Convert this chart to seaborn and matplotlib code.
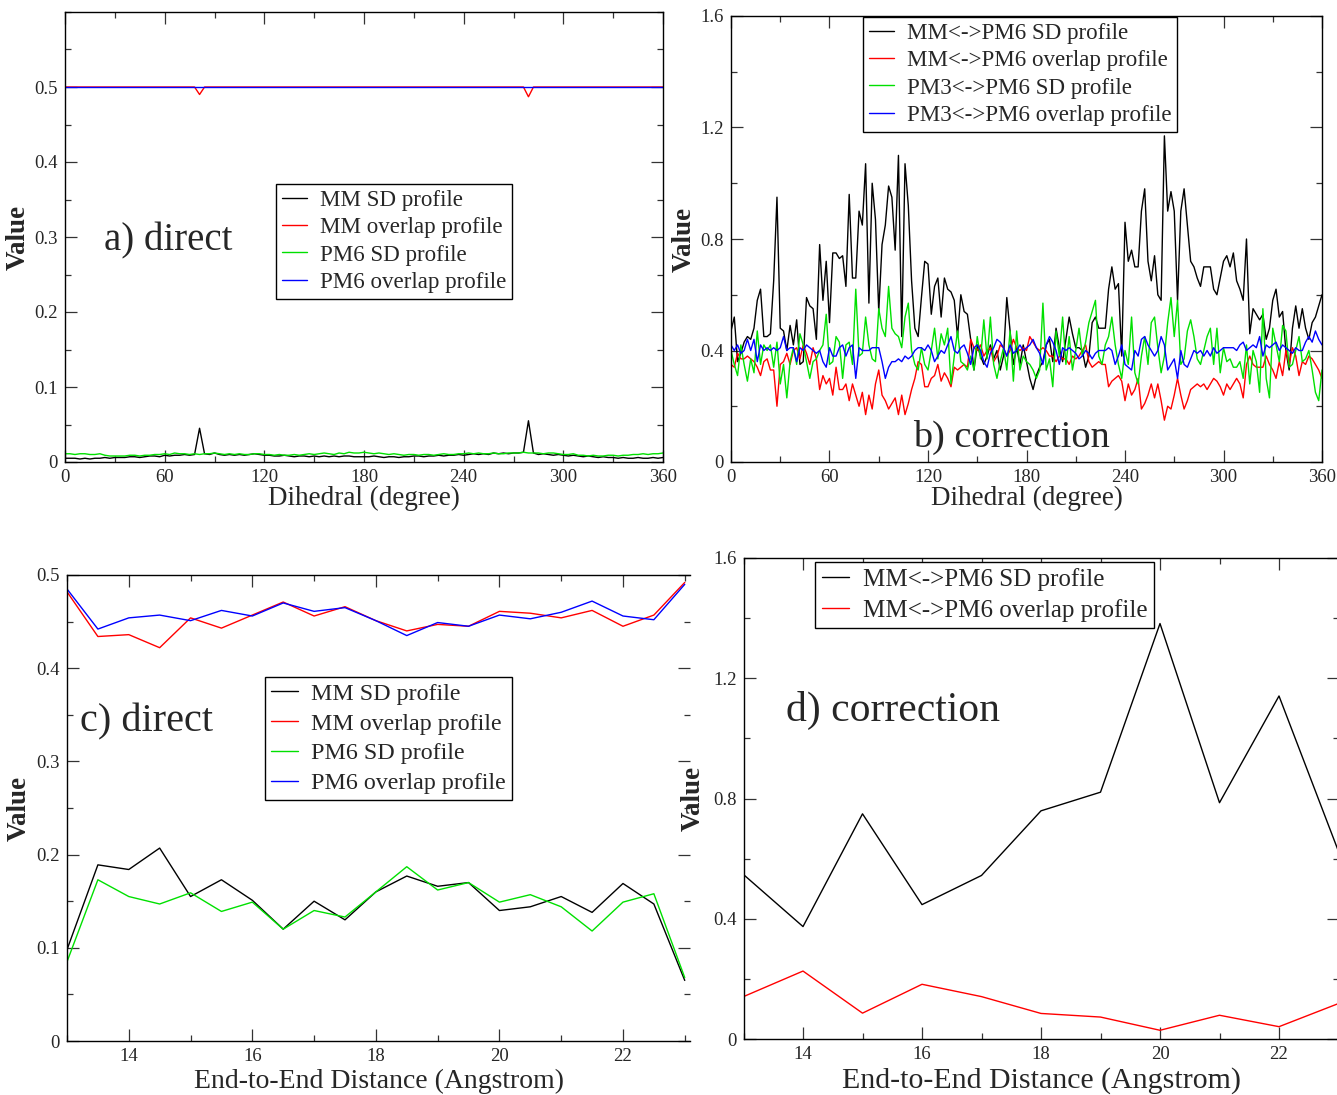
import numpy as np
import pandas as pd
import matplotlib
matplotlib.use("Agg")
import matplotlib.pyplot as plt
from matplotlib.ticker import MultipleLocator, FixedLocator, FuncFormatter
import seaborn as sns

# ---------------- data ----------------
# panel a (direct, dihedral) : 3-degree grid
dih_a = np.arange(0, 361, 3)
mm_sd_a = [0.005, 0.005, 0.005, 0.004, 0.005, 0.004, 0.005, 0.005, 0.006, 0.005, 0.006,
           0.006, 0.006, 0.007, 0.007, 0.006, 0.007, 0.008, 0.008, 0.007,
           0.009, 0.008, 0.009, 0.009, 0.010, 0.009, 0.010,
           0.045, 0.011, 0.010, 0.012,
           0.010, 0.009, 0.010, 0.009, 0.010, 0.009, 0.010, 0.011, 0.010, 0.009,
           0.009, 0.008, 0.008, 0.009, 0.008, 0.007, 0.008, 0.008, 0.007, 0.008,
           0.007, 0.008, 0.007, 0.008, 0.007, 0.008, 0.008, 0.007, 0.007,
           0.007, 0.007, 0.008, 0.007, 0.006, 0.007, 0.007, 0.006, 0.007, 0.007,
           0.008, 0.008, 0.007, 0.008, 0.008, 0.009, 0.008, 0.009, 0.009, 0.010,
           0.009, 0.010, 0.011, 0.010, 0.011, 0.010, 0.012, 0.011, 0.012, 0.011, 0.012,
           0.012, 0.013, 0.055, 0.012,
           0.010, 0.011, 0.010, 0.009, 0.010, 0.009, 0.008, 0.009, 0.008, 0.007,
           0.008, 0.007, 0.006, 0.007, 0.006, 0.006, 0.005, 0.006, 0.005, 0.005,
           0.006, 0.005, 0.005, 0.006, 0.005, 0.006]
mm_ov_a = [0.5, 0.5, 0.5, 0.5, 0.5, 0.5, 0.5, 0.5, 0.5, 0.5, 0.5,
           0.5, 0.5, 0.5, 0.5, 0.5, 0.5, 0.5, 0.5, 0.5, 0.5, 0.5,
           0.5, 0.5, 0.5, 0.5, 0.5, 0.490, 0.5, 0.5, 0.5, 0.5, 0.5,
           0.5, 0.5, 0.5, 0.5, 0.5, 0.5, 0.5, 0.5, 0.5, 0.5, 0.5,
           0.5, 0.5, 0.5, 0.5, 0.5, 0.5, 0.5, 0.5, 0.5, 0.5, 0.5,
           0.5, 0.5, 0.5, 0.5, 0.5, 0.5, 0.5, 0.5, 0.5, 0.5, 0.5,
           0.5, 0.5, 0.5, 0.5, 0.5, 0.5, 0.5, 0.5, 0.5, 0.5, 0.5,
           0.5, 0.5, 0.5, 0.5, 0.5, 0.5, 0.5, 0.5, 0.5, 0.5, 0.5,
           0.5, 0.5, 0.5, 0.5, 0.5, 0.487, 0.5, 0.5, 0.5, 0.5, 0.5,
           0.5, 0.5, 0.5, 0.5, 0.5, 0.5, 0.5, 0.5, 0.5, 0.5, 0.5,
           0.5, 0.5, 0.5, 0.5, 0.5, 0.5, 0.5, 0.5, 0.5, 0.5, 0.5]
pm6_sd_a = [0.011, 0.011, 0.010, 0.011, 0.011, 0.010, 0.010, 0.011, 0.009, 0.008, 0.008,
            0.008, 0.008, 0.009, 0.009, 0.008, 0.009, 0.009, 0.010, 0.010, 0.011,
            0.010, 0.012, 0.011, 0.011, 0.010, 0.011, 0.010, 0.011, 0.011, 0.012,
            0.011, 0.010, 0.011, 0.010, 0.011, 0.010, 0.010, 0.011, 0.011, 0.010,
            0.010, 0.009, 0.010, 0.009, 0.009, 0.010, 0.009, 0.010, 0.011, 0.010,
            0.011, 0.012, 0.011, 0.010, 0.012, 0.011, 0.013, 0.012, 0.012, 0.013,
            0.012, 0.011, 0.012, 0.011, 0.010, 0.011, 0.010, 0.009, 0.010, 0.010,
            0.009, 0.010, 0.010, 0.009, 0.010, 0.011, 0.010, 0.010, 0.011, 0.011,
            0.012, 0.011, 0.012, 0.011, 0.011, 0.012, 0.011, 0.011, 0.012, 0.012,
            0.012, 0.013, 0.012, 0.012, 0.012, 0.011, 0.012, 0.012, 0.011, 0.010,
            0.010, 0.011, 0.009, 0.009, 0.008, 0.009, 0.008, 0.008, 0.009, 0.009,
            0.008, 0.009, 0.009, 0.010, 0.010, 0.011, 0.010, 0.011, 0.011, 0.012]
pm6_ov_a = [0.5, 0.5, 0.5, 0.5, 0.5, 0.5, 0.5, 0.5, 0.5, 0.5, 0.5,
            0.5, 0.5, 0.5, 0.5, 0.5, 0.5, 0.5, 0.5, 0.5, 0.5, 0.5,
            0.5, 0.5, 0.5, 0.5, 0.5, 0.5, 0.5, 0.5, 0.5, 0.5, 0.5,
            0.5, 0.5, 0.5, 0.5, 0.5, 0.5, 0.5, 0.5, 0.5, 0.5, 0.5,
            0.5, 0.5, 0.5, 0.5, 0.5, 0.5, 0.5, 0.5, 0.5, 0.5, 0.5,
            0.5, 0.5, 0.5, 0.5, 0.5, 0.5, 0.5, 0.5, 0.5, 0.5, 0.5,
            0.5, 0.5, 0.5, 0.5, 0.5, 0.5, 0.5, 0.5, 0.5, 0.5, 0.5,
            0.5, 0.5, 0.5, 0.5, 0.5, 0.5, 0.5, 0.5, 0.5, 0.5, 0.5,
            0.5, 0.5, 0.5, 0.5, 0.5, 0.5, 0.5, 0.5, 0.5, 0.5, 0.5,
            0.5, 0.5, 0.5, 0.5, 0.5, 0.5, 0.5, 0.5, 0.5, 0.5, 0.5,
            0.5, 0.5, 0.5, 0.5, 0.5, 0.5, 0.5, 0.5, 0.5, 0.5, 0.5]

# panel b (correction, dihedral) : 2-degree grid
dih_b = np.arange(0, 361, 2)
mm_pm6_sd_b = [0.47, 0.52, 0.36, 0.39, 0.43, 0.45, 0.44, 0.48, 0.58, 0.62, 0.45, 0.45, 0.46, 0.65, 0.95,
               0.48, 0.47, 0.40, 0.49, 0.42, 0.51, 0.35, 0.36, 0.59, 0.56, 0.55, 0.44, 0.78, 0.58, 0.72,
               0.50, 0.75, 0.75, 0.73, 0.74, 0.63, 0.96, 0.66, 0.66, 0.90, 0.85, 1.07, 0.57, 1.00, 0.87, 0.54,
               0.78, 0.85, 0.99, 0.95, 0.76, 1.10, 0.45, 1.07, 0.92, 0.65, 0.48, 0.45, 0.59, 0.72, 0.71,
               0.53, 0.63, 0.66, 0.52, 0.66, 0.62, 0.61, 0.58, 0.45, 0.60, 0.54, 0.53, 0.44, 0.33, 0.42,
               0.38, 0.35, 0.38, 0.42, 0.37, 0.40, 0.33, 0.38, 0.59, 0.47, 0.35, 0.41, 0.35, 0.42, 0.36,
               0.30, 0.26, 0.31, 0.34, 0.36, 0.42, 0.44, 0.36, 0.48, 0.41, 0.36, 0.44, 0.52, 0.46, 0.41,
               0.41, 0.40, 0.34, 0.38, 0.50, 0.52, 0.48, 0.48, 0.48, 0.62, 0.70, 0.62, 0.64, 0.38, 0.86,
               0.72, 0.76, 0.70, 0.70, 0.90, 0.98, 0.72, 0.65, 0.74, 0.60, 0.58, 1.17, 0.90, 0.97, 0.90,
               0.58, 0.90, 0.98, 0.85, 0.72, 0.70, 0.66, 0.63, 0.70, 0.70, 0.70, 0.62, 0.60, 0.66, 0.72,
               0.74, 0.70, 0.75, 0.65, 0.62, 0.58, 0.80, 0.46, 0.55, 0.53, 0.51, 0.53, 0.44, 0.48, 0.58,
               0.62, 0.52, 0.54, 0.40, 0.33, 0.48, 0.56, 0.48, 0.55, 0.48, 0.44, 0.50, 0.52, 0.56, 0.60]
mm_pm6_ov_b = [0.35, 0.34, 0.39, 0.37, 0.37, 0.38, 0.37, 0.36, 0.34, 0.31, 0.36, 0.37, 0.33, 0.33, 0.20,
               0.35, 0.36, 0.39, 0.35, 0.40, 0.41, 0.37, 0.42, 0.39, 0.35, 0.41, 0.37, 0.26, 0.31, 0.28,
               0.30, 0.24, 0.34, 0.26, 0.26, 0.28, 0.22, 0.28, 0.24, 0.20, 0.25, 0.17, 0.24, 0.19, 0.28, 0.33,
               0.24, 0.22, 0.19, 0.21, 0.23, 0.17, 0.24, 0.17, 0.21, 0.26, 0.30, 0.36, 0.35, 0.27, 0.27,
               0.30, 0.31, 0.35, 0.29, 0.32, 0.30, 0.27, 0.34, 0.33, 0.34, 0.35, 0.34, 0.44, 0.41, 0.40,
               0.42, 0.38, 0.40, 0.41, 0.36, 0.38, 0.42, 0.41, 0.38, 0.40, 0.44, 0.41, 0.40, 0.41, 0.40,
               0.45, 0.43, 0.41, 0.40, 0.41, 0.40, 0.38, 0.38, 0.36, 0.38, 0.37, 0.37, 0.35, 0.38, 0.37,
               0.38, 0.40, 0.42, 0.36, 0.34, 0.35, 0.36, 0.35, 0.35, 0.27, 0.29, 0.30, 0.31, 0.29, 0.22,
               0.28, 0.24, 0.26, 0.30, 0.19, 0.21, 0.24, 0.28, 0.23, 0.28, 0.22, 0.15, 0.20, 0.19, 0.24,
               0.30, 0.24, 0.19, 0.22, 0.26, 0.27, 0.28, 0.27, 0.28, 0.26, 0.28, 0.30, 0.29, 0.27, 0.24,
               0.28, 0.26, 0.28, 0.30, 0.28, 0.23, 0.35, 0.38, 0.35, 0.34, 0.34, 0.34, 0.38, 0.35, 0.33,
               0.30, 0.36, 0.31, 0.40, 0.35, 0.41, 0.38, 0.31, 0.36, 0.35, 0.38, 0.37, 0.35, 0.33, 0.30]
pm3_pm6_sd_b = [0.40, 0.35, 0.31, 0.42, 0.35, 0.29, 0.37, 0.32, 0.47, 0.35, 0.42, 0.40, 0.42, 0.34, 0.43,
                0.28, 0.35, 0.23, 0.36, 0.41, 0.35, 0.46, 0.42, 0.36, 0.30, 0.36, 0.37, 0.40, 0.42, 0.53,
                0.35, 0.36, 0.45, 0.43, 0.30, 0.42, 0.43, 0.35, 0.62, 0.38, 0.39, 0.52, 0.42, 0.37, 0.36, 0.55,
                0.48, 0.45, 0.63, 0.48, 0.46, 0.45, 0.41, 0.52, 0.57, 0.40, 0.35, 0.33, 0.41, 0.35, 0.33,
                0.40, 0.48, 0.37, 0.46, 0.42, 0.48, 0.28, 0.38, 0.47, 0.36, 0.35, 0.33, 0.38, 0.33, 0.45,
                0.37, 0.51, 0.37, 0.52, 0.35, 0.30, 0.36, 0.41, 0.33, 0.47, 0.29, 0.47, 0.33, 0.38, 0.36,
                0.35, 0.33, 0.30, 0.33, 0.57, 0.33, 0.37, 0.27, 0.47, 0.38, 0.52, 0.35, 0.45, 0.33, 0.40,
                0.48, 0.38, 0.43, 0.50, 0.54, 0.58, 0.38, 0.35, 0.42, 0.45, 0.52, 0.42, 0.35, 0.30, 0.40,
                0.35, 0.52, 0.32, 0.28, 0.38, 0.45, 0.35, 0.50, 0.52, 0.41, 0.32, 0.38, 0.50, 0.59, 0.45,
                0.58, 0.35, 0.37, 0.47, 0.51, 0.45, 0.37, 0.35, 0.40, 0.45, 0.48, 0.35, 0.48, 0.32, 0.41,
                0.36, 0.37, 0.34, 0.34, 0.36, 0.30, 0.42, 0.28, 0.40, 0.36, 0.25, 0.55, 0.30, 0.23, 0.48,
                0.42, 0.36, 0.49, 0.47, 0.34, 0.35, 0.40, 0.45, 0.36, 0.37, 0.40, 0.33, 0.25, 0.22, 0.33]
pm3_pm6_ov_b = [0.42, 0.40, 0.42, 0.39, 0.40, 0.44, 0.40, 0.44, 0.36, 0.42, 0.40, 0.41, 0.40, 0.41, 0.40,
                0.41, 0.45, 0.40, 0.41, 0.41, 0.36, 0.41, 0.40, 0.42, 0.41, 0.40, 0.39, 0.40, 0.36, 0.34,
                0.41, 0.38, 0.38, 0.41, 0.42, 0.38, 0.41, 0.42, 0.30, 0.41, 0.40, 0.40, 0.40, 0.41, 0.41, 0.41,
                0.36, 0.30, 0.34, 0.36, 0.36, 0.37, 0.36, 0.38, 0.37, 0.38, 0.40, 0.41, 0.41, 0.40, 0.42,
                0.40, 0.36, 0.38, 0.40, 0.39, 0.42, 0.45, 0.40, 0.39, 0.41, 0.42, 0.39, 0.35, 0.41, 0.42,
                0.40, 0.36, 0.34, 0.39, 0.41, 0.44, 0.43, 0.41, 0.38, 0.42, 0.39, 0.40, 0.42, 0.40, 0.41,
                0.42, 0.44, 0.41, 0.39, 0.35, 0.42, 0.45, 0.43, 0.40, 0.35, 0.41, 0.40, 0.41, 0.40, 0.39,
                0.37, 0.38, 0.40, 0.39, 0.37, 0.39, 0.40, 0.40, 0.40, 0.41, 0.40, 0.35, 0.38, 0.42, 0.35,
                0.34, 0.33, 0.40, 0.38, 0.44, 0.45, 0.42, 0.40, 0.38, 0.40, 0.45, 0.42, 0.33, 0.35, 0.37,
                0.30, 0.40, 0.35, 0.34, 0.37, 0.40, 0.39, 0.40, 0.38, 0.40, 0.38, 0.41, 0.39, 0.40, 0.41,
                0.41, 0.41, 0.41, 0.40, 0.42, 0.43, 0.40, 0.41, 0.42, 0.41, 0.45, 0.38, 0.42, 0.41, 0.42,
                0.43, 0.40, 0.42, 0.41, 0.40, 0.39, 0.41, 0.40, 0.40, 0.43, 0.45, 0.43, 0.47, 0.44, 0.42]

# panel c (direct, end-to-end distance)
dist_c = [13, 13.5, 14, 14.5, 15, 15.5, 16, 16.5, 17, 17.5, 18, 18.5, 19, 19.5, 20, 20.5, 21, 21.5, 22, 22.5, 23]
mm_sd_c = [0.098, 0.189, 0.184, 0.207, 0.155, 0.173, 0.151, 0.120, 0.150, 0.130, 0.160,
           0.177, 0.166, 0.170, 0.140, 0.144, 0.155, 0.138, 0.169, 0.147, 0.065]
mm_ov_c = [0.482, 0.434, 0.436, 0.422, 0.454, 0.443, 0.457, 0.471, 0.456, 0.466, 0.451,
           0.440, 0.447, 0.445, 0.461, 0.459, 0.454, 0.462, 0.445, 0.457, 0.492]
pm6_sd_c = [0.085, 0.173, 0.155, 0.147, 0.159, 0.139, 0.149, 0.120, 0.140, 0.133, 0.160,
            0.187, 0.162, 0.170, 0.149, 0.157, 0.144, 0.118, 0.149, 0.158, 0.068]
pm6_ov_c = [0.485, 0.442, 0.454, 0.457, 0.451, 0.462, 0.456, 0.470, 0.461, 0.465, 0.451,
            0.435, 0.449, 0.445, 0.457, 0.453, 0.460, 0.472, 0.456, 0.452, 0.490]

# panel d (correction, end-to-end distance)
dist_d = [13, 14, 15, 16, 17, 18, 19, 20, 21, 22, 23]
mm_pm6_sd_d = [0.547, 0.374, 0.749, 0.447, 0.544, 0.759, 0.821, 1.382, 0.786, 1.141, 0.624]
mm_pm6_ov_d = [0.141, 0.226, 0.086, 0.182, 0.141, 0.085, 0.073, 0.029, 0.079, 0.041, 0.118]

labels_direct = ["MM SD profile", "MM overlap profile", "PM6 SD profile", "PM6 overlap profile"]
labels_corr = ["MM<->PM6 SD profile", "MM<->PM6 overlap profile",
               "PM3<->PM6 SD profile", "PM3<->PM6 overlap profile"]
colors4 = ["#000000", "#ff0000", "#00e000", "#0000ff"]

# ---------------- style ----------------
sns.set_theme(style="ticks")
plt.rcParams["font.family"] = ["Liberation Serif", "DejaVu Serif"]
plt.rcParams["axes.linewidth"] = 1.0
plt.rcParams["axes.edgecolor"] = "black"

W, H = 1337, 1095
fig = plt.figure(figsize=(W / 100, H / 100), dpi=100)
fig.patch.set_facecolor("white")


def px_axes(left, top, right, bottom):
    return fig.add_axes([left / W, 1 - bottom / H, (right - left) / W, (bottom - top) / H])


def long_df(x, series, names):
    frames = []
    for s, n in zip(series, names):
        frames.append(pd.DataFrame({"x": x, "y": s, "series": n}))
    return pd.concat(frames, ignore_index=True)


def draw(ax, df, names, colors):
    sns.lineplot(data=df, x="x", y="y", hue="series", hue_order=names,
                 palette=dict(zip(names, colors)), estimator=None, sort=False,
                 linewidth=1.0, ax=ax)


fmt = FuncFormatter(lambda v, p: f"{v:g}")


def style_axes(ax, xlabel, ylabel, xl_y, yl_x, xfs=20, yfs=19.5):
    ax.tick_params(which="both", direction="in", top=True, right=True,
                   labelsize=13.5, width=0.9, color="#333333", pad=5)
    ax.tick_params(which="major", length=8.6)
    ax.tick_params(which="minor", length=4.3)
    ax.xaxis.set_major_formatter(fmt)
    ax.yaxis.set_major_formatter(fmt)
    ax.set_xlabel(xlabel, fontsize=xfs)
    ax.set_ylabel(ylabel, fontsize=yfs, fontweight="bold")
    ax.xaxis.set_label_coords(0.5, xl_y)
    ax.yaxis.set_label_coords(yl_x, 0.5)
    for sp in ax.spines.values():
        sp.set_linewidth(1.0)
        sp.set_color("black")
    ax.set_facecolor("white")


def legend(ax, anchor, fs=17, spacing=0.28):
    h, l = ax.get_legend_handles_labels()
    leg = ax.legend(h, l, loc="upper left", bbox_to_anchor=anchor, frameon=True,
                    fancybox=False, edgecolor="black", framealpha=1, fontsize=fs,
                    handlelength=1.1, handletextpad=0.55, labelspacing=spacing,
                    borderpad=0.25, borderaxespad=0)
    leg.get_frame().set_linewidth(1.0)
    for line in leg.get_lines():
        line.set_linewidth(1.0)


# ---------- panel a ----------
ax = px_axes(65, 12, 663, 462)
df = long_df(dih_a, [mm_sd_a, mm_ov_a, pm6_sd_a, pm6_ov_a], labels_direct)
draw(ax, df, labels_direct, colors4)
ax.set_xlim(0, 360)
ax.set_ylim(0, 0.6)
ax.xaxis.set_major_locator(MultipleLocator(60))
ax.xaxis.set_minor_locator(MultipleLocator(30))
ax.yaxis.set_major_locator(FixedLocator([0, 0.1, 0.2, 0.3, 0.4, 0.5]))
ax.yaxis.set_minor_locator(MultipleLocator(0.05))
style_axes(ax, "Dihedral (degree)", "Value", -0.053, -0.057, xfs=19.5)
legend(ax, (0.353, 0.618), fs=16.6, spacing=0.27)
ax.text(0.065, 0.471, "a) direct", transform=ax.transAxes, fontsize=28, va="baseline")

# ---------- panel b ----------
ax = px_axes(731, 16, 1322, 462)
df = long_df(dih_b, [mm_pm6_sd_b, mm_pm6_ov_b, pm3_pm6_sd_b, pm3_pm6_ov_b], labels_corr)
draw(ax, df, labels_corr, colors4)
ax.set_xlim(0, 360)
ax.set_ylim(0, 1.6)
ax.xaxis.set_major_locator(MultipleLocator(60))
ax.xaxis.set_minor_locator(MultipleLocator(30))
ax.yaxis.set_major_locator(MultipleLocator(0.4))
ax.yaxis.set_minor_locator(MultipleLocator(0.2))
style_axes(ax, "Dihedral (degree)", "Value", -0.054, -0.058, xfs=19.5)
legend(ax, (0.223, 0.998), fs=16.6, spacing=0.27)
ax.text(0.308, 0.034, "b) correction", transform=ax.transAxes, fontsize=27.5, va="baseline")

# ---------- panel c ----------
ax = px_axes(67, 575, 690, 1041)
df = long_df(dist_c, [mm_sd_c, mm_ov_c, pm6_sd_c, pm6_ov_c], labels_direct)
draw(ax, df, labels_direct, colors4)
ax.set_xlim(13, 13 + (690 - 67.25) / 61.75)
ax.set_ylim(0, 0.5)
ax.xaxis.set_major_locator(MultipleLocator(2))
ax.xaxis.set_minor_locator(MultipleLocator(1))
ax.yaxis.set_major_locator(MultipleLocator(0.1))
ax.yaxis.set_minor_locator(MultipleLocator(0.05))
style_axes(ax, "End-to-End Distance (Angstrom)", "Value", -0.060, -0.056)
ax.spines["right"].set_visible(False)
legend(ax, (0.318, 0.781), fs=17.3, spacing=0.33)
ax.text(0.021, 0.665, "c) direct", transform=ax.transAxes, fontsize=29, va="baseline")

# ---------- panel d ----------
ax = px_axes(743.5, 558, 1338.5, 1039)
df = long_df(dist_d, [mm_pm6_sd_d, mm_pm6_ov_d], labels_corr[:2])
draw(ax, df, labels_corr[:2], colors4[:2])
ax.set_xlim(13, 23)
ax.set_ylim(0, 1.6)
ax.xaxis.set_major_locator(MultipleLocator(2))
ax.xaxis.set_minor_locator(MultipleLocator(1))
ax.yaxis.set_major_locator(MultipleLocator(0.4))
ax.yaxis.set_minor_locator(MultipleLocator(0.2))
style_axes(ax, "End-to-End Distance (Angstrom)", "Value", -0.058, -0.064, xfs=21.5)
legend(ax, (0.121, 0.992), fs=18, spacing=0.3)
ax.text(0.071, 0.662, "d) correction", transform=ax.transAxes, fontsize=30, va="baseline")

fig.savefig("out.png", dpi=100, facecolor="white")
